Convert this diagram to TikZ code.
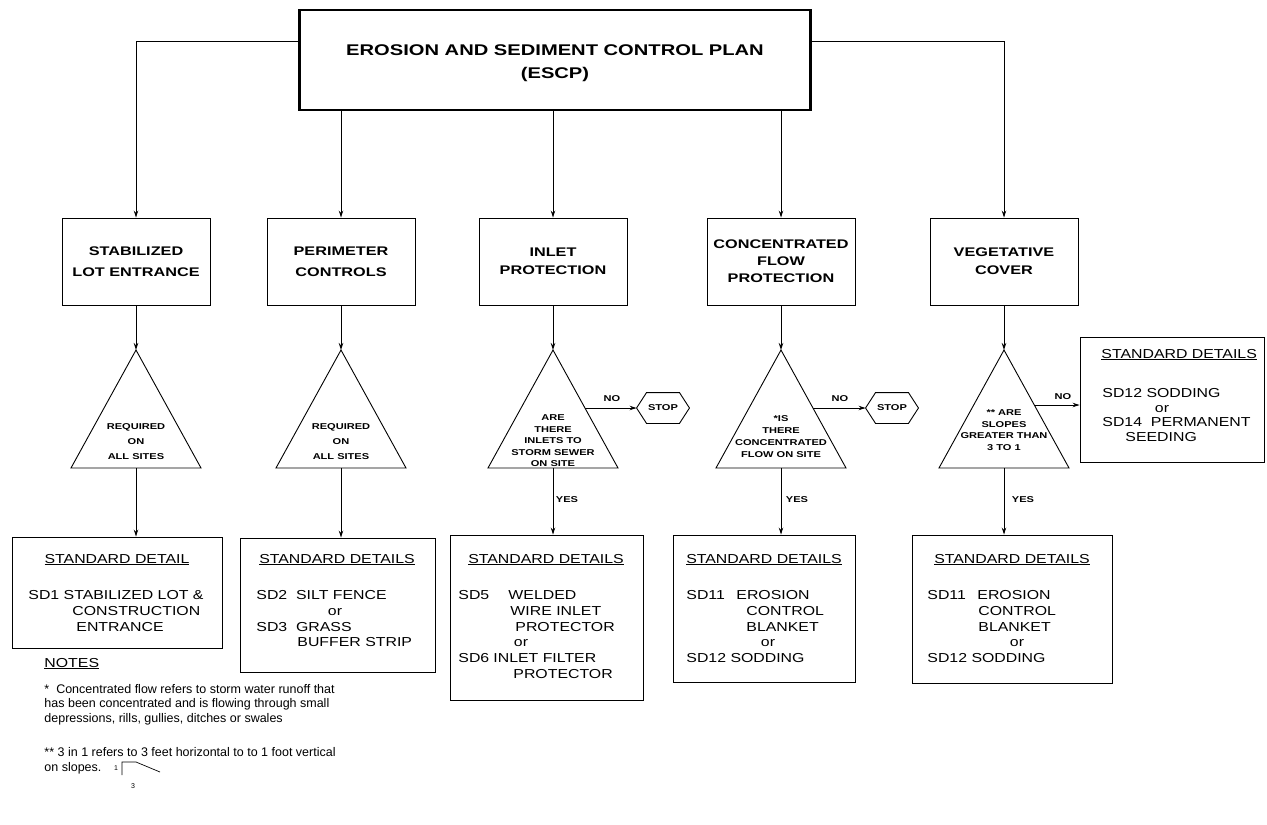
\documentclass[tikz,border=0pt]{standalone}
\usepackage{fontspec}
\setmainfont{Liberation Sans}
\newfontfamily\wsf[FakeStretch=1.3]{Liberation Sans}
\newfontfamily\dsf[FakeStretch=1.22]{Liberation Sans}
\usetikzlibrary{arrows.meta,calc}
\newcounter{tln}
\newcommand{\tline}[4][]{\stepcounter{tln}\node[dtext,#1] (tl\arabic{tln}) at (#2,#3) {#4};}
\begin{document}
\begin{tikzpicture}[x=1pt,y=-1pt,line width=0.9pt,
  titlebox/.style={draw,line width=2.2pt,minimum width=511pt,minimum height=100pt,inner sep=0pt},
  titletext/.style={align=center,inner sep=0pt,font=\wsf\bfseries\fontsize{15.5}{23}\selectfont},
  mainbox/.style={draw,minimum width=148pt,minimum height=87pt,align=center,inner sep=0pt,font=\wsf\bfseries\fontsize{12.5}{21}\selectfont},
  detbox/.style={draw,inner sep=0pt},
  dtext/.style={anchor=base west,inner sep=0pt,font=\dsf\fontsize{13}{15}\selectfont},
  tritext/.style={align=center,inner sep=0pt,font=\wsf\bfseries\fontsize{8.5}{11.5}\selectfont},
  lbl/.style={inner sep=0pt,font=\wsf\bfseries\fontsize{8.5}{10}\selectfont},
  stopnode/.style={inner sep=0pt,minimum width=52pt,minimum height=30pt,font=\wsf\bfseries\fontsize{8.5}{10}\selectfont},
  arr/.style={-{Stealth[length=7pt,width=4.5pt]}},
  note/.style={anchor=base west,inner sep=0pt,font=\fontsize{12.5}{14}\selectfont},
]
\useasboundingbox (0,0) rectangle (1267,825);

% title
\node[titlebox] (title) at (555,60) {};
\node[titletext] (ttl) at (555,63) {EROSION AND SEDIMENT CONTROL PLAN\\(ESCP)};

% row 1
\node[mainbox] (b1) at (136,261.5) {STABILIZED\\LOT ENTRANCE};
\node[mainbox] (b2) at (341,261.5) {PERIMETER\\CONTROLS};
\node[mainbox,font=\wsf\bfseries\fontsize{12.5}{18}\selectfont] (b3) at (553,261.5) {INLET\\PROTECTION};
\node[mainbox,font=\wsf\bfseries\fontsize{12.5}{17}\selectfont] (b4) at (781,261.5) {CONCENTRATED\\FLOW\\PROTECTION};
\node[mainbox,font=\wsf\bfseries\fontsize{12.5}{18}\selectfont] (b5) at (1004,261.5) {VEGETATIVE\\COVER};

\draw[arr] ([yshift=19pt]title.west) -| (b1.north);
\draw[arr] ([yshift=19pt]title.east) -| (b5.north);
\draw[arr] (title.south -| b2.north) -- (b2.north);
\draw[arr] (title.south -| b3.north) -- (b3.north);
\draw[arr] (title.south -| b4.north) -- (b4.north);

% triangles
\foreach \i/\cx in {1/136,2/341,3/553,4/781,5/1004}{
  \coordinate (t\i a) at (\cx,350);
  \coordinate (t\i l) at (\cx-65,468);
  \coordinate (t\i r) at (\cx+65,468);
  \coordinate (t\i b) at (\cx,468);
  \draw (t\i a) -- (t\i r) -- (t\i l) -- cycle;
  \draw[arr] (b\i.south) -- (t\i a);
}
\node[tritext,font=\wsf\bfseries\fontsize{8.5}{15}\selectfont] (q1) at (136,442) {REQUIRED\\ON\\ALL SITES};
\node[tritext,font=\wsf\bfseries\fontsize{8.5}{15}\selectfont] (q2) at (341,442) {REQUIRED\\ON\\ALL SITES};
\node[tritext] (q3) at (553,441) {ARE\\THERE\\INLETS TO\\STORM SEWER\\ON SITE};
\node[tritext,font=\wsf\bfseries\fontsize{8.5}{12}\selectfont] (q4) at (781,437) {*IS\\THERE\\CONCENTRATED\\FLOW ON SITE};
\node[tritext] (q5) at (1004,430) {** ARE\\SLOPES\\GREATER THAN\\3 TO 1};

% STOP hexagons
\node[stopnode] (stop1) at (663,408) {STOP};
\node[stopnode] (stop2) at (892,408) {STOP};
\foreach \s in {stop1,stop2}{
  \draw (\s.west) -- ([xshift=10pt]\s.north west) -- ([xshift=-10pt]\s.north east) -- (\s.east)
        -- ([xshift=-10pt]\s.south east) -- ([xshift=10pt]\s.south west) -- cycle;
}
\coordinate (e3) at (585,408);
\coordinate (e4) at (813,408);
\coordinate (e5) at (1034,405);
\draw[arr] (e3) -- (stop1.west);
\draw[arr] (e4) -- (stop2.west);
\node[lbl] (no3) at (612,399) {NO};
\node[lbl] (no4) at (840,399) {NO};
\node[lbl] (no5) at (1063,397) {NO};

% detail boxes
\node[detbox,minimum width=210pt,minimum height=111pt] (d1) at (117,592.5) {};
\node[detbox,minimum width=195pt,minimum height=134pt] (d2) at (337.5,605) {};
\node[detbox,minimum width=193pt,minimum height=165pt] (d3) at (546.5,617.5) {};
\node[detbox,minimum width=182pt,minimum height=147pt] (d4) at (764,608.5) {};
\node[detbox,minimum width=200pt,minimum height=148pt] (d5) at (1012,609) {};
\node[detbox,minimum width=184pt,minimum height=125pt] (d6) at (1172,399.5) {};

\foreach \i in {1,...,5}{ \draw[arr] (t\i b) -- (t\i b |- d\i.north); }
\draw[arr] (e5) -- (e5 -| d6.west);
\node[lbl] (yes3) at (567,500) {YES};
\node[lbl] (yes4) at (797,500) {YES};
\node[lbl] (yes5) at (1023,500) {YES};

% box 1
\tline[anchor=base]{117}{563}{\underline{STANDARD DETAIL}}
\tline{28}{599}{SD1 STABILIZED LOT \&}
\tline{72}{615}{CONSTRUCTION}
\tline{76}{631}{ENTRANCE}
% box 2
\tline[anchor=base]{337}{563}{\underline{STANDARD DETAILS}}
\tline{256}{599}{SD2\ \ SILT FENCE}
\tline[anchor=base]{335}{615}{or}
\tline{256}{631}{SD3\ \ GRASS}
\tline{297}{646}{BUFFER STRIP}
% box 3
\tline[anchor=base]{546}{563}{\underline{STANDARD DETAILS}}
\tline{458}{599}{SD5}
\tline{508}{599}{WELDED}
\tline{510}{615}{WIRE INLET}
\tline{515}{631}{PROTECTOR}
\tline[anchor=base]{521}{646}{or}
\tline{458}{662}{SD6}
\tline{493}{662}{INLET FILTER}
\tline{513}{678}{PROTECTOR}
% box 4
\tline[anchor=base]{764}{563}{\underline{STANDARD DETAILS}}
\tline{686}{599}{SD11}
\tline{736}{599}{EROSION}
\tline{746}{615}{CONTROL}
\tline{746}{631}{BLANKET}
\tline[anchor=base]{768}{646}{or}
\tline{686}{662}{SD12 SODDING}
% box 5
\tline[anchor=base]{1012}{563}{\underline{STANDARD DETAILS}}
\tline{927}{599}{SD11}
\tline{977}{599}{EROSION}
\tline{978}{615}{CONTROL}
\tline{978}{631}{BLANKET}
\tline[anchor=base]{1017}{646}{or}
\tline{927}{662}{SD12 SODDING}
% box 6
\tline{1101}{358}{\underline{STANDARD DETAILS}}
\tline{1102}{397}{SD12 SODDING}
\tline[anchor=base]{1162}{412}{or}
\tline{1102}{426}{SD14\ \ PERMANENT}
\tline{1125}{441}{SEEDING}

% notes
\tline{44}{667}{\underline{NOTES}}
\node[note] (n1) at (44,693) {*\ \ Concentrated flow refers to storm water runoff that};
\node[note] (n2) at (44,707) {has been concentrated and is flowing through small};
\node[note] (n3) at (44,722) {depressions, rills, gullies, ditches or swales};
\node[note] (n4) at (44,756) {** 3 in 1 refers to 3 feet horizontal to to 1 foot vertical};
\node[note] (n5) at (44,771) {on slopes.};
\node[inner sep=0pt,font=\fontsize{7}{7}\selectfont] (s1) at (116,768) {1};
\coordinate (sa) at (122,775);
\coordinate (sb) at (122,762);
\coordinate (sc) at (136,762);
\coordinate (sd) at (160,772);
\draw[line width=0.7pt] (sa) -- (sb) -- (sc) -- (sd);
\node[inner sep=0pt,font=\fontsize{7}{7}\selectfont] (s3) at (133,786) {3};
\end{tikzpicture}
\end{document}
